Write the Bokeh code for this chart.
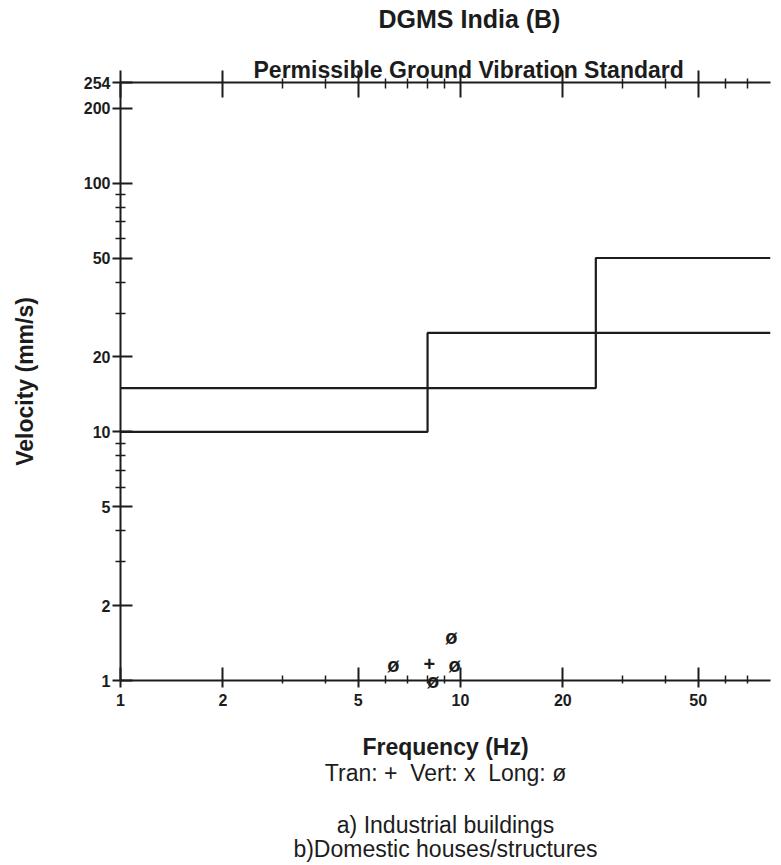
from bokeh.plotting import figure
from bokeh.models import (FixedTicker, LogAxis, LinearAxis, NumeralTickFormatter,
                          Range1d, CustomJSTickFormatter, Title)
from bokeh.embed import file_html
from bokeh.resources import INLINE
from bokeh.core.properties import value

# ---- data ----
x_ticks = [1, 2, 5, 10, 20, 50]
x_minor_ticks = [3, 4, 6, 7, 8, 9, 30, 40, 60, 70]
y_ticks = [1, 2, 5, 10, 20, 50, 100, 200, 254]
y_minor_ticks = [3, 4, 6, 7, 8, 9, 30, 40, 60, 70, 80, 90]

x_start, x_end = 1, 81.6
y_start, y_end = 1, 254

# limit line (a): 10 mm/s below 8 Hz, 25 mm/s above
line_a_freq = [1, 8, 8, x_end]
line_a_vel = [10, 10, 25, 25]
# limit line (b): 15 mm/s below 25 Hz, 50 mm/s above
line_b_freq = [1, 25, 25, x_end]
line_b_vel = [15, 15, 50, 50]

# measured events
long_freq = [6.35, 8.3, 9.4, 9.6]
long_vel = [1.15, 1.0, 1.5, 1.15]
tran_freq = [8.1]
tran_vel = [1.17]

title_text = "DGMS India (B)"
subtitle_text = "Permissible Ground Vibration Standard"
x_label = "Frequency (Hz)"
y_label = "Velocity (mm/s)"
legend_text = "Tran: +\u00a0 Vert: x\u00a0 Long: ø"
note_a = "a) Industrial buildings"
note_b = "b)Domestic houses/structures"

INK = "#1c1c1c"
FONT = "Liberation Sans"

p = figure(x_axis_type="log", y_axis_type="log",
           x_range=Range1d(x_start, x_end), y_range=Range1d(y_start, y_end),
           frame_width=650, frame_height=598,
           min_border_left=120, min_border_right=3,
           min_border_top=82, min_border_bottom=181,
           output_backend="svg", toolbar_location=None,
           outline_line_color=None, background_fill_color="white")

p.xgrid.grid_line_color = None
p.ygrid.grid_line_color = None


def style_axis(ax, ticks, minor, t_in, t_out, m_in, m_out, size):
    ax.ticker = FixedTicker(ticks=ticks, minor_ticks=minor)
    ax.axis_line_color = INK
    ax.axis_line_width = 2
    ax.major_tick_line_color = INK
    ax.major_tick_line_width = 2
    ax.minor_tick_line_color = INK
    ax.minor_tick_line_width = 1.5
    ax.major_tick_in = t_in
    ax.major_tick_out = t_out
    ax.minor_tick_in = m_in
    ax.minor_tick_out = m_out
    ax.major_label_text_font = FONT
    ax.major_label_text_font_style = "bold"
    ax.major_label_text_font_size = size
    ax.major_label_text_color = INK
    ax.axis_label_text_font = FONT
    ax.axis_label_text_font_style = "bold"
    ax.axis_label_text_font_size = "23px"
    ax.axis_label_text_color = INK


xa = p.xaxis[0]
style_axis(xa, x_ticks, x_minor_ticks, 13, 7, 5, 3, "16px")
xa.formatter = NumeralTickFormatter(format="0")
xa.major_label_standoff = 6
xa.axis_label = x_label
xa.axis_label_standoff = 25

ya = p.yaxis[0]
style_axis(ya, y_ticks, y_minor_ticks, 12, 8, 5, 5, "16px")
ya.formatter = NumeralTickFormatter(format="0")
ya.major_label_standoff = 2
ya.axis_label = y_label
ya.axis_label_standoff = 43

top = LogAxis(formatter=CustomJSTickFormatter(code="return ''"))
style_axis(top, x_ticks, x_minor_ticks, 15, 12, 6, 4, "1px")
top.major_label_standoff = 0
p.add_layout(top, "above")

# subtitle sitting on the top axis, spacer, then main title
p.add_layout(Title(text=subtitle_text, align="left", offset=133,
                   text_font=FONT, text_font_size="23px",
                   text_font_style="bold", text_color=INK,
                   standoff=-24), "above")
p.add_layout(Title(text=" ", text_font_size="1px", standoff=33), "above")
p.add_layout(Title(text=title_text, align="left", offset=258,
                   text_font=FONT, text_font_size="25px",
                   text_font_style="bold", text_color=INK,
                   standoff=-4), "above")

# limit lines
p.line(line_a_freq, line_a_vel, line_color=INK, line_width=2.2)
p.line(line_b_freq, line_b_vel, line_color=INK, line_width=2.2)

# event markers
r1 = p.text(x=long_freq, y=long_vel, text=["ø"] * len(long_freq),
            text_font=value(FONT), text_font_style="bold",
            text_font_size="20px", text_color=INK,
            text_align="center", text_baseline="middle")
r2 = p.text(x=tran_freq, y=tran_vel, text=["+"] * len(tran_freq),
            text_font=value(FONT), text_font_style="bold",
            text_font_size="20px", text_color=INK,
            text_align="center", text_baseline="middle")
r1.level = "overlay"
r2.level = "overlay"


# symbol legend and notes: label-only axes stacked below the x axis
def text_row(text, standoff):
    ax = LinearAxis(ticker=FixedTicker(ticks=[], minor_ticks=[]),
                    axis_line_color=None,
                    major_tick_in=0, major_tick_out=0,
                    minor_tick_in=0, minor_tick_out=0,
                    major_label_standoff=0,
                    axis_label=text, axis_label_standoff=standoff,
                    axis_label_text_font=FONT,
                    axis_label_text_font_size="23px",
                    axis_label_text_font_style="normal",
                    axis_label_text_color=INK)
    p.add_layout(ax, "below")


text_row(legend_text, -3)
text_row(note_a, 23)
text_row(note_b, -5)

open("out.html", "w").write(file_html(p, INLINE))
